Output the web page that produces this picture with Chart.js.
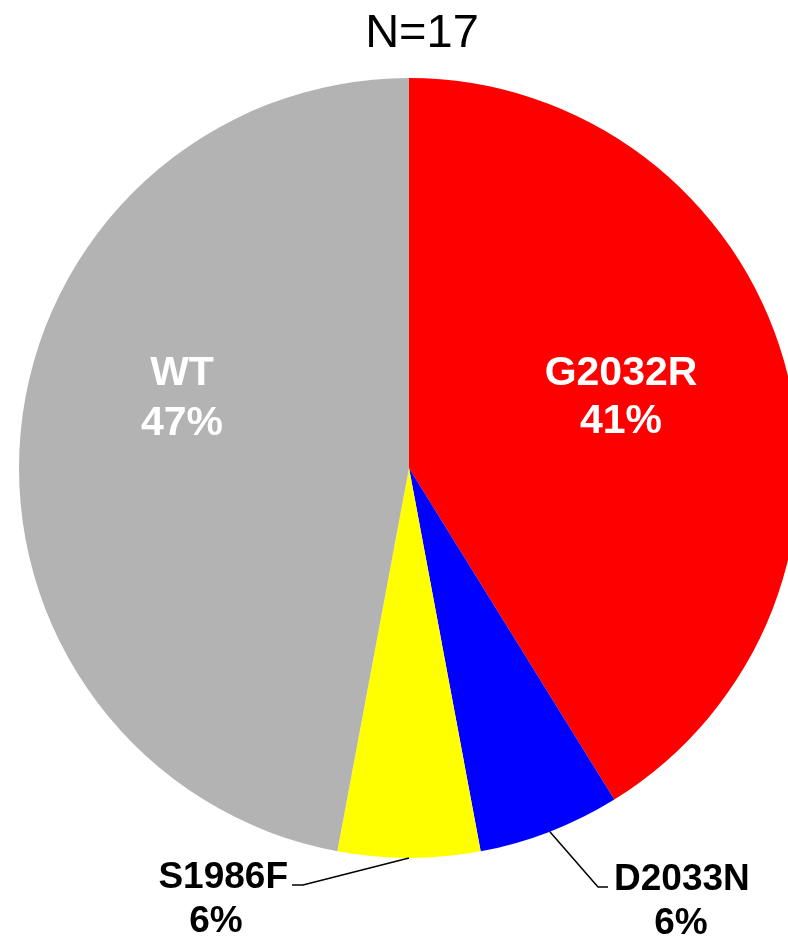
<!DOCTYPE html>
<html>
<head>
<meta charset="utf-8">
<script src="https://cdn.jsdelivr.net/npm/chart.js@4.4.1/dist/chart.umd.min.js"></script>
<style>
  html, body { margin: 0; padding: 0; background: #ffffff; overflow: hidden; width: 788px; height: 938px; }
  #wrap { position: absolute; left: 0; top: 0; width: 818px; height: 938px; }
</style>
</head>
<body>
<div id="wrap"><canvas id="c" width="818" height="938"></canvas></div>
<script>
const categories = ['G2032R', 'D2033N', 'S1986F', 'WT'];
const counts = [7, 1, 1, 8];
const sliceColors = ['#ff0000', '#0000ff', '#ffff00', '#b3b3b3'];

const total = counts.reduce((a, b) => a + b, 0);
const pct = counts.map(v => Math.round(v / total * 100) + '%');
const FONT = '"Liberation Sans", Arial, Helvetica, sans-serif';

const labelPlugin = {
  id: 'pieLabels',
  afterDraw(chart) {
    const ctx = chart.ctx;
    const meta = chart.getDatasetMeta(0);
    const a0 = meta.data[0];
    const cx = a0.x, cy = a0.y, R = a0.outerRadius;
    ctx.save();
    // Title
    ctx.fillStyle = '#000000';
    ctx.font = '47px ' + FONT;
    ctx.textAlign = 'center';
    ctx.textBaseline = 'alphabetic';
    ctx.fillText('N=' + total, cx + 13, 47);

    // Inner labels (white)
    ctx.fillStyle = '#ffffff';
    ctx.font = 'bold 41px ' + FONT;
    ctx.textAlign = 'center';
    // G2032R
    ctx.fillText(categories[0], cx + 212, cy - 83);
    ctx.fillText(pct[0], cx + 212, cy - 35);
    // WT
    ctx.fillText(categories[3], cx - 227, cy - 83);
    ctx.fillText(pct[3], cx - 227, cy - 33);

    // Outer labels with leader lines
    const mid = (el) => (el.startAngle + el.endAngle) / 2;
    ctx.strokeStyle = '#000000';
    ctx.lineWidth = 1.5;
    ctx.fillStyle = '#000000';
    ctx.font = 'bold 37px ' + FONT;

    // D2033N
    const d = meta.data[1];
    let ang = mid(d);
    let sx = cx + R * Math.cos(ang), sy = cy + R * Math.sin(ang);
    ctx.beginPath();
    ctx.moveTo(sx, sy);
    ctx.lineTo(cx + 189, cy + 419);
    ctx.lineTo(cx + 199, cy + 419);
    ctx.stroke();
    ctx.textAlign = 'left';
    ctx.fillText(categories[1], cx + 205, cy + 422);
    ctx.textAlign = 'center';
    ctx.fillText(pct[1], cx + 272, cy + 466);

    // S1986F
    const s = meta.data[2];
    ang = mid(s);
    sx = cx + R * Math.cos(ang); sy = cy + R * Math.sin(ang);
    ctx.beginPath();
    ctx.moveTo(sx, sy);
    ctx.lineTo(cx - 106, cy + 417);
    ctx.lineTo(cx - 117, cy + 417);
    ctx.stroke();
    ctx.textAlign = 'right';
    ctx.fillText(categories[2], cx - 121, cy + 420);
    ctx.textAlign = 'center';
    ctx.fillText(pct[2], cx - 193, cy + 464);
    ctx.restore();
  }
};

new Chart(document.getElementById('c'), {
  type: 'pie',
  data: {
    labels: categories,
    datasets: [{
      data: counts,
      backgroundColor: sliceColors,
      borderWidth: 0,
      hoverOffset: 0,
      offset: 0
    }]
  },
  options: {
    responsive: false,
    animation: false,
    events: [],
    layout: { padding: { top: 78, bottom: 80, left: 0, right: 0 } },
    plugins: {
      legend: { display: false },
      title: { display: false },
      tooltip: { enabled: false }
    }
  },
  plugins: [labelPlugin]
});
</script>
</body>
</html>
